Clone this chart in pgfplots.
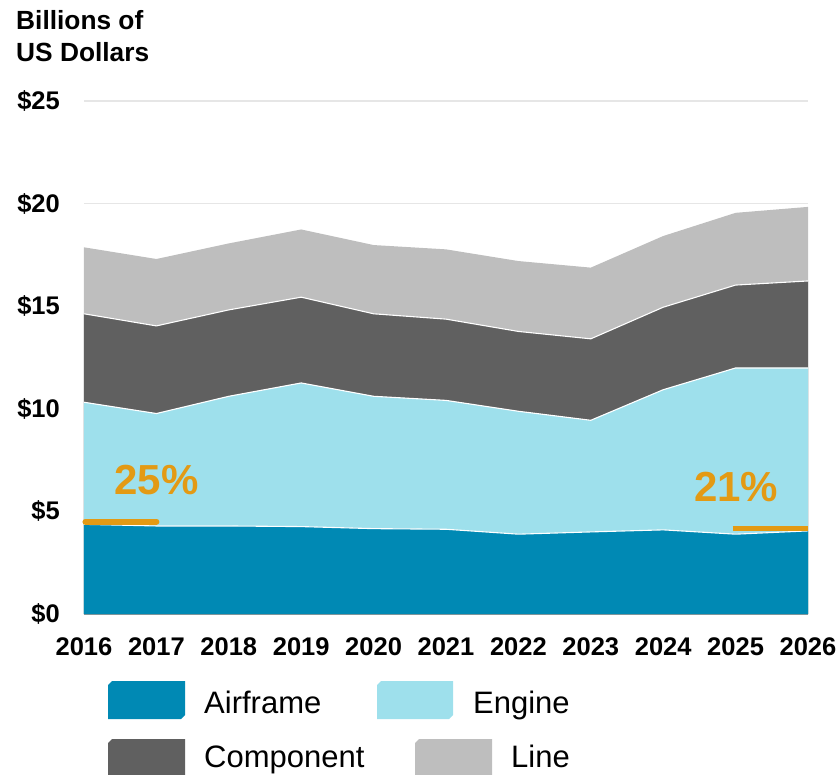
\documentclass[border=0pt]{standalone}
\usepackage{pgfplots}
\usepackage{pgfplotstable}
\pgfplotsset{compat=1.18}
\usepackage{fontspec}
\setmainfont{Liberation Sans}
\definecolor{cAir}{HTML}{0089B4}
\definecolor{cEng}{HTML}{9EE0EC}
\definecolor{cComp}{HTML}{606060}
\definecolor{cLine}{HTML}{BEBEBE}
\definecolor{cOr}{HTML}{E39A14}
\definecolor{cGrid}{HTML}{E6E6E6}
\definecolor{cAxis}{HTML}{8F8F8F}
\pgfplotstableread{
year airframe engine component line
2016 4.37 5.95 4.31 3.24
2017 4.29 5.48 4.27 3.26
2018 4.29 6.32 4.21 3.24
2019 4.26 7.00 4.18 3.30
2020 4.16 6.45 4.02 3.35
2021 4.13 6.28 3.96 3.40
2022 3.89 5.99 3.89 3.43
2023 4.00 5.44 3.97 3.47
2024 4.10 6.83 4.02 3.47
2025 3.89 8.10 4.04 3.52
2026 4.05 7.94 4.24 3.61
}\data
\newcommand{\lab}{\fontsize{25.5}{30}\selectfont\bfseries}
\newcommand{\ttl}{\fontsize{26.3}{30}\selectfont\bfseries}
\newcommand{\leg}{\fontsize{31}{36}\selectfont}
\begin{document}
\begin{tikzpicture}
\useasboundingbox (0,0) rectangle (839pt,-775pt);
\begin{axis}[
  at={(84pt,-614pt)}, anchor=south west,
  scale only axis, width=724pt, height=513pt,
  xmin=2016, xmax=2026, ymin=0, ymax=25,
  clip=false,
  axis x line*=bottom, axis y line*=left,
  x axis line style={draw=cAxis, line width=1.3pt, -},
  y axis line style={draw=none},
  major tick length=0pt,
  xtick={2016,2017,2018,2019,2020,2021,2022,2023,2024,2025,2026},
  xticklabels={2016,2017,2018,2019,2020,2021,2022,2023,2024,2025,2026},
  ytick={0,5,10,15,20,25},
  yticklabels={\$0,\$5,\$10,\$15,\$20,\$25},
  xticklabel style={font=\lab, anchor=north, inner sep=0pt, yshift=-23pt},
  yticklabel style={font=\lab, anchor=east, inner sep=0pt, xshift=-24pt},
  ymajorgrids, grid style={draw=cGrid, line width=1.2pt},
]
\addplot[fill=cLine, draw=none] table[x=year, y expr=\thisrow{airframe}+\thisrow{engine}+\thisrow{component}+\thisrow{line}] {\data} \closedcycle;
\addplot[fill=cComp, draw=none] table[x=year, y expr=\thisrow{airframe}+\thisrow{engine}+\thisrow{component}] {\data} \closedcycle;
\addplot[fill=cEng, draw=none] table[x=year, y expr=\thisrow{airframe}+\thisrow{engine}] {\data} \closedcycle;
\addplot[fill=cAir, draw=none] table[x=year, y=airframe] {\data} \closedcycle;
\addplot[draw=white, line width=1.1pt] table[x=year, y expr=\thisrow{airframe}+\thisrow{engine}+\thisrow{component}] {\data};
\addplot[draw=white, line width=1.1pt] table[x=year, y expr=\thisrow{airframe}+\thisrow{engine}] {\data};
\addplot[draw=white, line width=1.1pt] table[x=year, y=airframe] {\data};
\addplot[draw=cOr, line width=6pt, line cap=round] coordinates {(2016.02,4.50) (2017.0,4.50)};
\addplot[draw=cOr, line width=5pt] coordinates {(2024.96,4.18) (2026.0,4.18)};
\node[font=\fontsize{42}{48}\selectfont\bfseries, text=cOr, anchor=base, inner sep=0pt] at (axis cs:2017.0,5.83) {25\%};
\node[font=\fontsize{42}{48}\selectfont\bfseries, text=cOr, anchor=base, inner sep=0pt] at (axis cs:2025.01,5.48) {21\%};
\end{axis}
% title
\node[font=\ttl, anchor=base west, inner sep=0pt] at (16pt,-30pt) {Billions of};
\node[font=\ttl, anchor=base west, inner sep=0pt] at (16pt,-61.7pt) {US Dollars};
% legend
\fill[cAir] (112pt,-681pt) -- (185pt,-681pt) -- (185pt,-715pt) -- (181pt,-719pt) -- (108pt,-719pt) -- (108pt,-685pt) -- cycle;
\fill[cEng] (381pt,-681pt) -- (453pt,-681pt) -- (453pt,-715pt) -- (449pt,-719pt) -- (377pt,-719pt) -- (377pt,-685pt) -- cycle;
\fill[cComp] (112pt,-739pt) -- (185pt,-739pt) -- (185pt,-775pt) -- (108pt,-775pt) -- (108pt,-743pt) -- cycle;
\fill[cLine] (419pt,-739pt) -- (492pt,-739pt) -- (492pt,-775pt) -- (415pt,-775pt) -- (415pt,-743pt) -- cycle;
\node[font=\leg, anchor=base west, inner sep=0pt] at (204pt,-713.3pt) {Airframe};
\node[font=\leg, anchor=base west, inner sep=0pt] at (473pt,-713.3pt) {Engine};
\node[font=\leg, anchor=base west, inner sep=0pt] at (204pt,-767.5pt) {Component};
\node[font=\leg, anchor=base west, inner sep=0pt] at (511pt,-767.5pt) {Line};
\end{tikzpicture}
\end{document}
